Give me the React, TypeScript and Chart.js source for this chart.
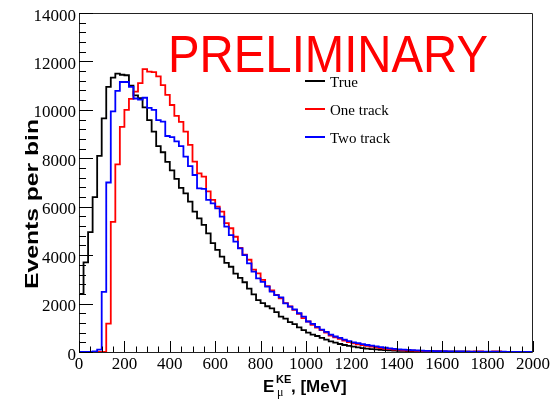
import React, { useEffect, useRef } from "react";
import { Chart, registerables } from "chart.js";

Chart.register(...registerables);

// Histogram binning (MeV)
const BIN_LOW = 0;
const BIN_WIDTH = 20;

// Events per 20 MeV bin (bins 0..99, 0-2000 MeV)
const trueEvents = [
  2400, 3700, 4950, 6400, 8100, 9650, 10950, 11330, 11500, 11450,
  11430, 11000, 10600, 10480, 10100, 9580, 9100, 8500, 8250, 7850,
  7500, 7150, 6780, 6550, 6210, 5800, 5520, 5250, 4900, 4500,
  4220, 3940, 3680, 3520, 3240, 3060, 2880, 2620, 2380, 2140,
  2020, 1890, 1800, 1650, 1460, 1380, 1230, 1150, 1020, 900,
  800, 720, 660, 580, 510, 440, 390, 330, 290, 250,
  220, 190, 160, 140, 120, 105, 90, 78, 68, 60,
  52, 46, 40, 36, 32, 28, 25, 22, 20, 18,
  16, 14, 13, 12, 11, 10, 9, 8, 8, 7,
  6, 6, 5, 5, 4, 4, 4, 3, 3, 3,
];

const oneTrack = [
  0, 0, 0, 0, 0, 0, 1170, 5370, 7750, 9300,
  10000, 10450, 10750, 11100, 11680, 11580, 11560, 11380, 11020, 10620,
  10200, 9750, 9500, 9100, 8550, 7860, 7380, 7240, 6630, 6280,
  6000, 5800, 5320, 5110, 4760, 4300, 4020, 3810, 3400, 3250,
  2980, 2720, 2540, 2360, 2220, 2020, 1880, 1740, 1580, 1400,
  1260, 1120, 1010, 900, 800, 680, 600, 540, 470, 410,
  360, 320, 280, 250, 220, 190, 160, 135, 115, 100,
  85, 72, 62, 54, 46, 40, 35, 30, 32, 30,
  21, 18, 16, 14, 12, 11, 10, 26, 24, 9,
  8, 26, 24, 7, 6, 6, 5, 5, 4, 4,
];

const twoTrack = [
  0, 0, 0, 20, 100, 2480, 7000, 9940, 10780, 11150,
  11150, 10950, 10470, 10420, 10500, 10080, 10000, 9580, 9510, 8920,
  8870, 8700, 8500, 8070, 7680, 7310, 6760, 6740, 6280, 6140,
  5930, 5590, 5180, 4830, 4560, 4280, 4000, 3660, 3320, 3040,
  2900, 2700, 2490, 2350, 2260, 2010, 1870, 1760, 1600, 1460,
  1260, 1160, 1040, 920, 830, 720, 640, 580, 510, 450,
  400, 365, 325, 290, 260, 230, 200, 175, 150, 130,
  112, 96, 84, 74, 64, 56, 50, 44, 39, 35,
  31, 28, 25, 22, 20, 18, 17, 15, 14, 13,
  12, 11, 10, 10, 9, 8, 8, 7, 7, 6,
];

const yTicks = [0, 2000, 4000, 6000, 8000, 10000, 12000, 14000];
const yMinorStep = 400;
const xTicks = [0, 200, 400, 600, 800, 1000, 1200, 1400, 1600, 1800, 2000];
const xMinorStep = 50;

const seriesLabels = ["True", "One track", "Two track"];
const seriesColors = ["#000000", "#ff0000", "#0000ff"];

function histPoints(vals: number[]) {
  const pts: { x: number; y: number }[] = [{ x: BIN_LOW, y: 0 }];
  vals.forEach((v, i) => pts.push({ x: BIN_LOW + i * BIN_WIDTH, y: v }));
  pts.push({ x: BIN_LOW + vals.length * BIN_WIDTH, y: vals[vals.length - 1] });
  return pts;
}

const SERIF = '"Liberation Serif", "DejaVu Serif", serif';
const SANS = '"Liberation Sans", Arial, sans-serif';

const decorPlugin = {
  id: "rootDecor",
  afterDraw(chart: any) {
    const ctx = chart.ctx as CanvasRenderingContext2D;
    const xs = chart.scales.x;
    const ys = chart.scales.y;
    const { left, right, top, bottom } = chart.chartArea;
    ctx.save();

    // frame
    ctx.strokeStyle = "#222";
    ctx.lineWidth = 1;
    ctx.beginPath();
    ctx.rect(left + 0.5, top + 0.5, right - left - 1, bottom - top);
    ctx.stroke();

    // y ticks
    ctx.strokeStyle = "#000";
    ctx.beginPath();
    for (let v = yTicks[0]; v <= yTicks[yTicks.length - 1] + 1e-6; v += yMinorStep) {
      const py = Math.round(ys.getPixelForValue(v)) + 0.5;
      const major = yTicks.includes(v);
      ctx.moveTo(left, py);
      ctx.lineTo(left + (major ? 14 : 7), py);
    }
    // x ticks
    for (let v = xTicks[0]; v <= xTicks[xTicks.length - 1] + 1e-6; v += xMinorStep) {
      const px = Math.round(xs.getPixelForValue(v)) + 0.5;
      const major = xTicks.includes(v);
      ctx.moveTo(px, bottom);
      ctx.lineTo(px, bottom - (major ? 11 : 5.5));
    }
    ctx.stroke();

    // tick labels
    ctx.fillStyle = "#000";
    ctx.font = `17px ${SERIF}`;
    ctx.textAlign = "right";
    ctx.textBaseline = "alphabetic";
    yTicks.forEach((v) => {
      ctx.fillText(String(v), left - 3, ys.getPixelForValue(v) + 7.5);
    });
    ctx.textAlign = "center";
    xTicks.forEach((v) => {
      ctx.fillText(String(v), xs.getPixelForValue(v), bottom + 16.5);
    });

    // y title (stretched along its length like the reference)
    ctx.save();
    ctx.font = `bold 18px ${SANS}`;
    const yTitle = "Events per bin";
    const w = ctx.measureText(yTitle).width;
    ctx.translate(38, 204);
    ctx.rotate(-Math.PI / 2);
    ctx.scale(170 / w, 1);
    ctx.textAlign = "center";
    ctx.textBaseline = "alphabetic";
    ctx.fillText(yTitle, 0, 0);
    ctx.restore();

    // x title: E^{KE}_{mu}, [MeV]
    ctx.textAlign = "left";
    ctx.textBaseline = "alphabetic";
    ctx.font = `bold 17px ${SANS}`;
    ctx.fillText("E", 263, 392);
    ctx.font = `bold 11px ${SANS}`;
    ctx.fillText("KE", 276, 383);
    ctx.font = `12px ${SERIF}`;
    ctx.fillText("\u03bc", 277, 396);
    ctx.font = `bold 17px ${SANS}`;
    ctx.fillText(", [MeV]", 291, 392);

    // legend
    const legY = [81, 109, 137];
    seriesLabels.forEach((lab, i) => {
      ctx.strokeStyle = seriesColors[i];
      ctx.lineWidth = 2;
      ctx.beginPath();
      ctx.moveTo(305, legY[i]);
      ctx.lineTo(325, legY[i]);
      ctx.stroke();
      ctx.fillStyle = "#000";
      ctx.font = `15px ${SERIF}`;
      ctx.fillText(lab, 330, legY[i] + 5.5);
    });

    // PRELIMINARY
    ctx.fillStyle = "#ff0000";
    ctx.font = `51px ${SANS}`;
    ctx.fillText("PRELIMINARY", 168, 72, 320);

    ctx.restore();
  },
};

export default function App() {
  const ref = useRef<HTMLCanvasElement | null>(null);
  useEffect(() => {
    document.body.style.margin = "0";
    if (!ref.current) return;
    const chart = new Chart(ref.current, {
      type: "line",
      data: {
        datasets: [
          { label: seriesLabels[2], data: histPoints(twoTrack), borderColor: seriesColors[2] },
          { label: seriesLabels[1], data: histPoints(oneTrack), borderColor: seriesColors[1] },
          { label: seriesLabels[0], data: histPoints(trueEvents), borderColor: seriesColors[0] },
        ].map((d) => ({
          ...d,
          stepped: true,
          borderWidth: 1.8,
          pointRadius: 0,
          fill: false,
          tension: 0,
        })),
      },
      options: {
        animation: false,
        responsive: false,
        events: [],
        layout: { padding: { left: 79, right: 25, top: 13, bottom: 49 } },
        plugins: { legend: { display: false }, tooltip: { enabled: false } },
        scales: {
          x: { type: "linear", min: 0, max: 2000, display: false },
          y: { type: "linear", min: 0, max: 14000, display: false },
        },
      },
      plugins: [decorPlugin],
    });
    return () => chart.destroy();
  }, []);
  return (
    <div style={{ position: "absolute", left: 0, top: 0, width: 558, height: 401, background: "#fff" }}>
      <canvas ref={ref} width={558} height={401} />
    </div>
  );
}
